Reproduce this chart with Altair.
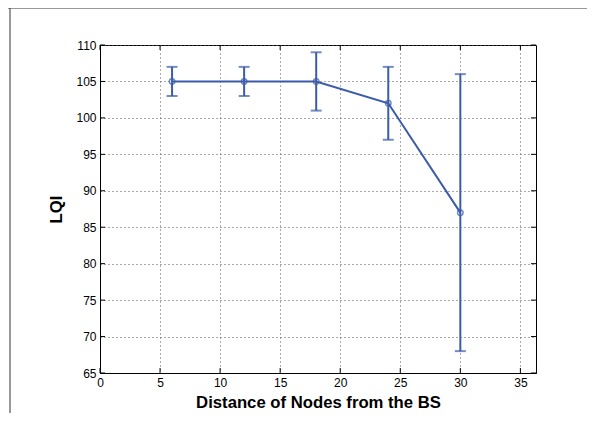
import altair as alt
import pandas as pd

distance = [6, 12, 18, 24, 30]
lqi = [105, 105, 105, 102, 87]
lqi_low = [103, 103, 101, 97, 68]
lqi_high = [107, 107, 109, 107, 106]

x_ticks = [0, 5, 10, 15, 20, 25, 30, 35]
y_ticks = [65, 70, 75, 80, 85, 90, 95, 100, 105, 110]

BLUE = "#3b5bab"
FONT = "Liberation Sans"

df = pd.DataFrame({"d": distance, "lqi": lqi, "lo": lqi_low, "hi": lqi_high})
xt = pd.DataFrame({"t": x_ticks})
yt = pd.DataFrame({"t": y_ticks})

xscale = alt.Scale(domain=[0, 36.3], nice=False, zero=False)
yscale = alt.Scale(domain=[65, 110], nice=False, zero=False)

xaxis = alt.Axis(values=x_ticks, title="Distance of Nodes from the BS", grid=True,
                 gridDash=[1, 3], gridColor="#555555", gridWidth=1,
                 tickSize=0, labelPadding=4, labelFontSize=12, labelFont=FONT,
                 labelColor="black", titleFont=FONT, titleFontSize=16.7,
                 titleFontWeight="bold", titleColor="black", titlePadding=6,
                 domainColor="black", labelFlush=False, labelOverlap=False)
yaxis = alt.Axis(values=y_ticks, title="LQI", grid=True,
                 gridDash=[1, 3], gridColor="#555555", gridWidth=1,
                 tickSize=0, labelPadding=4, labelFontSize=12, labelFont=FONT,
                 labelColor="black", titleFont=FONT, titleFontSize=16.7,
                 titleFontWeight="bold", titleColor="black", titlePadding=10,
                 domainColor="black", labelFlush=False, labelOverlap=False)

base = alt.Chart(df)

X = alt.X("d:Q", scale=xscale, axis=xaxis)
line = base.mark_line(color=BLUE, strokeWidth=2).encode(
    x=X, y=alt.Y("lqi:Q", scale=yscale, axis=yaxis))
pts = base.mark_point(color=BLUE, shape="circle", size=30, strokeWidth=1.5, filled=False).encode(
    x=X, y=alt.Y("lqi:Q", scale=yscale, axis=yaxis))
err = base.mark_rule(color=BLUE, strokeWidth=2).encode(
    x=X, y=alt.Y("lo:Q", scale=yscale, axis=yaxis), y2="hi:Q")
cap_hi = base.mark_tick(color=BLUE, orient="horizontal", size=11, thickness=2).encode(
    x=X, y=alt.Y("hi:Q", scale=yscale, axis=yaxis))
cap_lo = base.mark_tick(color=BLUE, orient="horizontal", size=11, thickness=2).encode(
    x=X, y=alt.Y("lo:Q", scale=yscale, axis=yaxis))

# inward ticks on all four sides
yt_left = alt.Chart(yt).mark_rule(color="black").encode(
    y=alt.Y("t:Q", scale=yscale, axis=yaxis), x=alt.value(0), x2=alt.value(5))
yt_right = alt.Chart(yt).mark_rule(color="black").encode(
    y=alt.Y("t:Q", scale=yscale, axis=yaxis), x=alt.value(431), x2=alt.value(436))
xt_bot = alt.Chart(xt).mark_rule(color="black").encode(
    x=alt.X("t:Q", scale=xscale, axis=xaxis), y=alt.value(323), y2=alt.value(328))
xt_top = alt.Chart(xt).mark_rule(color="black").encode(
    x=alt.X("t:Q", scale=xscale, axis=xaxis), y=alt.value(0), y2=alt.value(5))

# outer figure frame
frame_top = alt.Chart(xt.head(1)).mark_rule(color="#777777", strokeWidth=1.5).encode(
    x=alt.value(-92), x2=alt.value(495), y=alt.value(-37))
frame_left = alt.Chart(xt.head(1)).mark_rule(color="#333333", strokeWidth=1).encode(
    x=alt.value(-90), y=alt.value(-37), y2=alt.value(376))

chart = alt.layer(
    line, err, cap_hi, cap_lo, pts, yt_left, yt_right, xt_bot, xt_top, frame_top, frame_left
).properties(
    width=436, height=328,
    padding={"left": 92, "top": 37, "right": 51, "bottom": 40},
    autosize=alt.AutoSizeParams(type="none"),
    background="white",
).configure_view(stroke="black", strokeWidth=1).configure_axis(labelOverlap=False)

chart.save("out.html", embed_options={"renderer": "svg", "actions": False})
